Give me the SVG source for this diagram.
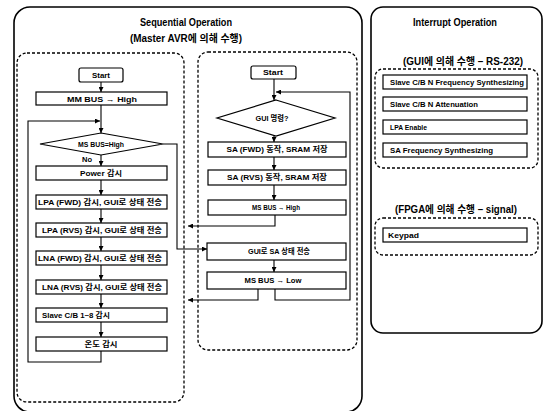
<svg xmlns="http://www.w3.org/2000/svg" width="547" height="411" viewBox="0 0 547 411">
<style>
text{font-family:"Liberation Sans","Noto Sans CJK KR",sans-serif;font-weight:bold;fill:#000;}
.t{font-size:7.5px;text-anchor:middle;}
.l{font-size:7.5px;text-anchor:start;}
.h{font-size:10px;text-anchor:middle;}
.box{fill:#fff;stroke:#000;stroke-width:1.2;}
.dia{fill:#fff;stroke:#000;stroke-width:1.2;}
.outer{fill:none;stroke:#000;stroke-width:1.6;}
.dash{fill:none;stroke:#000;stroke-width:1.3;stroke-dasharray:3 2;}
.c{fill:none;stroke:#000;stroke-width:1.1;marker-end:url(#ah);}
.cn{fill:none;stroke:#000;stroke-width:1.1;}
</style>
<defs>
<marker id="ah" viewBox="0 0 10 10" refX="10" refY="5" markerWidth="5" markerHeight="5" orient="auto" markerUnits="userSpaceOnUse">
<path d="M0,0 L10,5 L0,10 z" fill="#000"/>
</marker>
</defs>
<rect width="547" height="411" fill="#fff"/>

<g id="sequential-frame">
<rect class="outer" x="14" y="7" width="348" height="405" rx="16"/>
<text class="h" x="186" y="26" textLength="92" lengthAdjust="spacingAndGlyphs">Sequential Operation</text>
<text class="h" x="186" y="42" textLength="112" lengthAdjust="spacingAndGlyphs">(Master AVR에 의해 수행)</text>
<rect class="dash" x="17" y="53" width="167" height="349" rx="10"/>
<rect class="dash" x="198" y="52" width="159" height="298" rx="10"/>
</g>

<g id="interrupt-frame">
<rect class="outer" x="371" y="7" width="171" height="326" rx="12"/>
<text class="h" x="455" y="26" textLength="84" lengthAdjust="spacingAndGlyphs">Interrupt Operation</text>
<text class="h" x="463" y="65" textLength="120" lengthAdjust="spacingAndGlyphs">(GUI에 의해 수행 – RS-232)</text>
<rect class="dash" x="375" y="69" width="163" height="99" rx="8"/>
<text class="h" x="456" y="213" textLength="122" lengthAdjust="spacingAndGlyphs">(FPGA에 의해 수행 – signal)</text>
<rect class="dash" x="375" y="218" width="163" height="37" rx="8"/>
</g>

<g id="connectors">
<line class="c" x1="101" y1="82" x2="101" y2="92"/>
<line class="c" x1="101" y1="105" x2="101" y2="133"/>
<polyline class="c" points="101,351 101,362 28,362 28,121 100,121"/>
<line class="c" x1="101" y1="155" x2="101" y2="166"/>
<line class="c" x1="101" y1="180" x2="101" y2="195"/>
<line class="c" x1="101" y1="209" x2="101" y2="223"/>
<line class="c" x1="101" y1="237" x2="101" y2="251"/>
<line class="c" x1="101" y1="265" x2="101" y2="280"/>
<line class="c" x1="101" y1="294" x2="101" y2="308"/>
<line class="c" x1="101" y1="322" x2="101" y2="337"/>
<polyline class="c" points="163,144 177,144 177,249 207,249"/>

<line class="c" x1="274" y1="79" x2="274" y2="100"/>
<line class="c" x1="274" y1="136" x2="274" y2="142"/>
<line class="c" x1="274" y1="157" x2="274" y2="170"/>
<line class="c" x1="274" y1="185" x2="274" y2="200"/>
<polyline class="c" points="275,215 275,226 188,226"/>
<line class="c" x1="274" y1="260" x2="274" y2="272"/>
<polyline class="c" points="258,289 258,300 188,300"/>
<polyline class="c" points="275,289 275,300 350,300 350,92 276,92"/>
</g>

<g id="left-start"><rect class="box" x="79" y="68" width="44" height="14" rx="2"/><text class="t" x="101" y="77.5" textLength="18" lengthAdjust="spacingAndGlyphs">Start</text></g>
<g id="mm-bus-high"><rect class="box" x="36" y="92" width="131" height="13"/><text class="t" x="102" y="101.5" textLength="70" lengthAdjust="spacingAndGlyphs">MM BUS → High</text></g>
<g id="ms-bus-decision"><polygon class="dia" points="101,133 163,144 101,155 40,144"/><text class="t" x="101" y="146.5" textLength="46" lengthAdjust="spacingAndGlyphs">MS BUS=High</text></g>
<text class="l" x="82" y="162" textLength="10" lengthAdjust="spacingAndGlyphs">No</text>
<g id="power"><rect class="box" x="36" y="166" width="131" height="14"/><text class="t" x="101" y="175.5" textLength="42" lengthAdjust="spacingAndGlyphs">Power 감시</text></g>
<g id="lpa-fwd"><rect class="box" x="36" y="195" width="131" height="14"/><text class="t" x="100" y="204.5" textLength="124" lengthAdjust="spacingAndGlyphs">LPA (FWD) 감시, GUI로 상태 전송</text></g>
<g id="lpa-rvs"><rect class="box" x="36" y="223" width="131" height="14"/><text class="t" x="102" y="232.5" textLength="120" lengthAdjust="spacingAndGlyphs">LPA (RVS) 감시, GUI로 상태 전송</text></g>
<g id="lna-fwd"><rect class="box" x="36" y="251" width="131" height="14"/><text class="t" x="100" y="260.5" textLength="124" lengthAdjust="spacingAndGlyphs">LNA (FWD) 감시, GUI로 상태 전송</text></g>
<g id="lna-rvs"><rect class="box" x="36" y="280" width="131" height="14"/><text class="t" x="102" y="289.5" textLength="120" lengthAdjust="spacingAndGlyphs">LNA (RVS) 감시, GUI로 상태 전송</text></g>
<g id="slave-cb"><rect class="box" x="36" y="308" width="131" height="14"/><text class="l" x="42" y="317.5" textLength="68" lengthAdjust="spacingAndGlyphs">Slave C/B 1~8 감시</text></g>
<g id="temp"><rect class="box" x="36" y="337" width="131" height="14"/><text class="t" x="101" y="346.5" textLength="33" lengthAdjust="spacingAndGlyphs">온도 감시</text></g>

<g id="right-start"><rect class="box" x="251" y="66" width="45" height="13" rx="2"/><text class="t" x="273" y="75" textLength="20" lengthAdjust="spacingAndGlyphs">Start</text></g>
<g id="gui-decision"><polygon class="dia" points="276,100 335,118 276,136 217,118"/><text class="t" x="272" y="120.5" textLength="33" lengthAdjust="spacingAndGlyphs">GUI 명령?</text></g>
<g id="sa-fwd"><rect class="box" x="208" y="142" width="138" height="15"/><text class="t" x="277" y="152" textLength="101" lengthAdjust="spacingAndGlyphs">SA (FWD) 동작, SRAM 저장</text></g>
<g id="sa-rvs"><rect class="box" x="208" y="170" width="138" height="15"/><text class="t" x="277" y="180" textLength="100" lengthAdjust="spacingAndGlyphs">SA (RVS) 동작, SRAM 저장</text></g>
<g id="ms-bus-high"><rect class="box" x="208" y="200" width="138" height="15"/><text class="t" x="276" y="210" textLength="48" lengthAdjust="spacingAndGlyphs">MS BUS → High</text></g>
<g id="gui-sa"><rect class="box" x="207" y="243" width="139" height="17"/><text class="t" x="279" y="254" textLength="62" lengthAdjust="spacingAndGlyphs">GUI로 SA 상태 전송</text></g>
<g id="ms-bus-low"><rect class="box" x="207" y="272" width="139" height="17"/><text class="t" x="273" y="283" textLength="57" lengthAdjust="spacingAndGlyphs">MS BUS → Low</text></g>

<g id="slave-freq"><rect class="box" x="383" y="75" width="144" height="14"/><text class="l" x="390" y="84.5" textLength="134" lengthAdjust="spacingAndGlyphs">Slave C/B N Frequency Synthesizing</text></g>
<g id="slave-att"><rect class="box" x="383" y="97" width="144" height="14"/><text class="l" x="390" y="106.5" textLength="88" lengthAdjust="spacingAndGlyphs">Slave C/B N Attenuation</text></g>
<g id="lpa-enable"><rect class="box" x="383" y="120" width="144" height="14"/><text class="l" x="390" y="129.5" textLength="37" lengthAdjust="spacingAndGlyphs">LPA Enable</text></g>
<g id="sa-freq"><rect class="box" x="383" y="143" width="144" height="14"/><text class="l" x="390" y="152.5" textLength="103" lengthAdjust="spacingAndGlyphs">SA Frequency Synthesizing</text></g>
<g id="keypad"><rect class="box" x="383" y="228" width="144" height="14"/><text class="l" x="388" y="237.5" textLength="31" lengthAdjust="spacingAndGlyphs">Keypad</text></g>
</svg>
